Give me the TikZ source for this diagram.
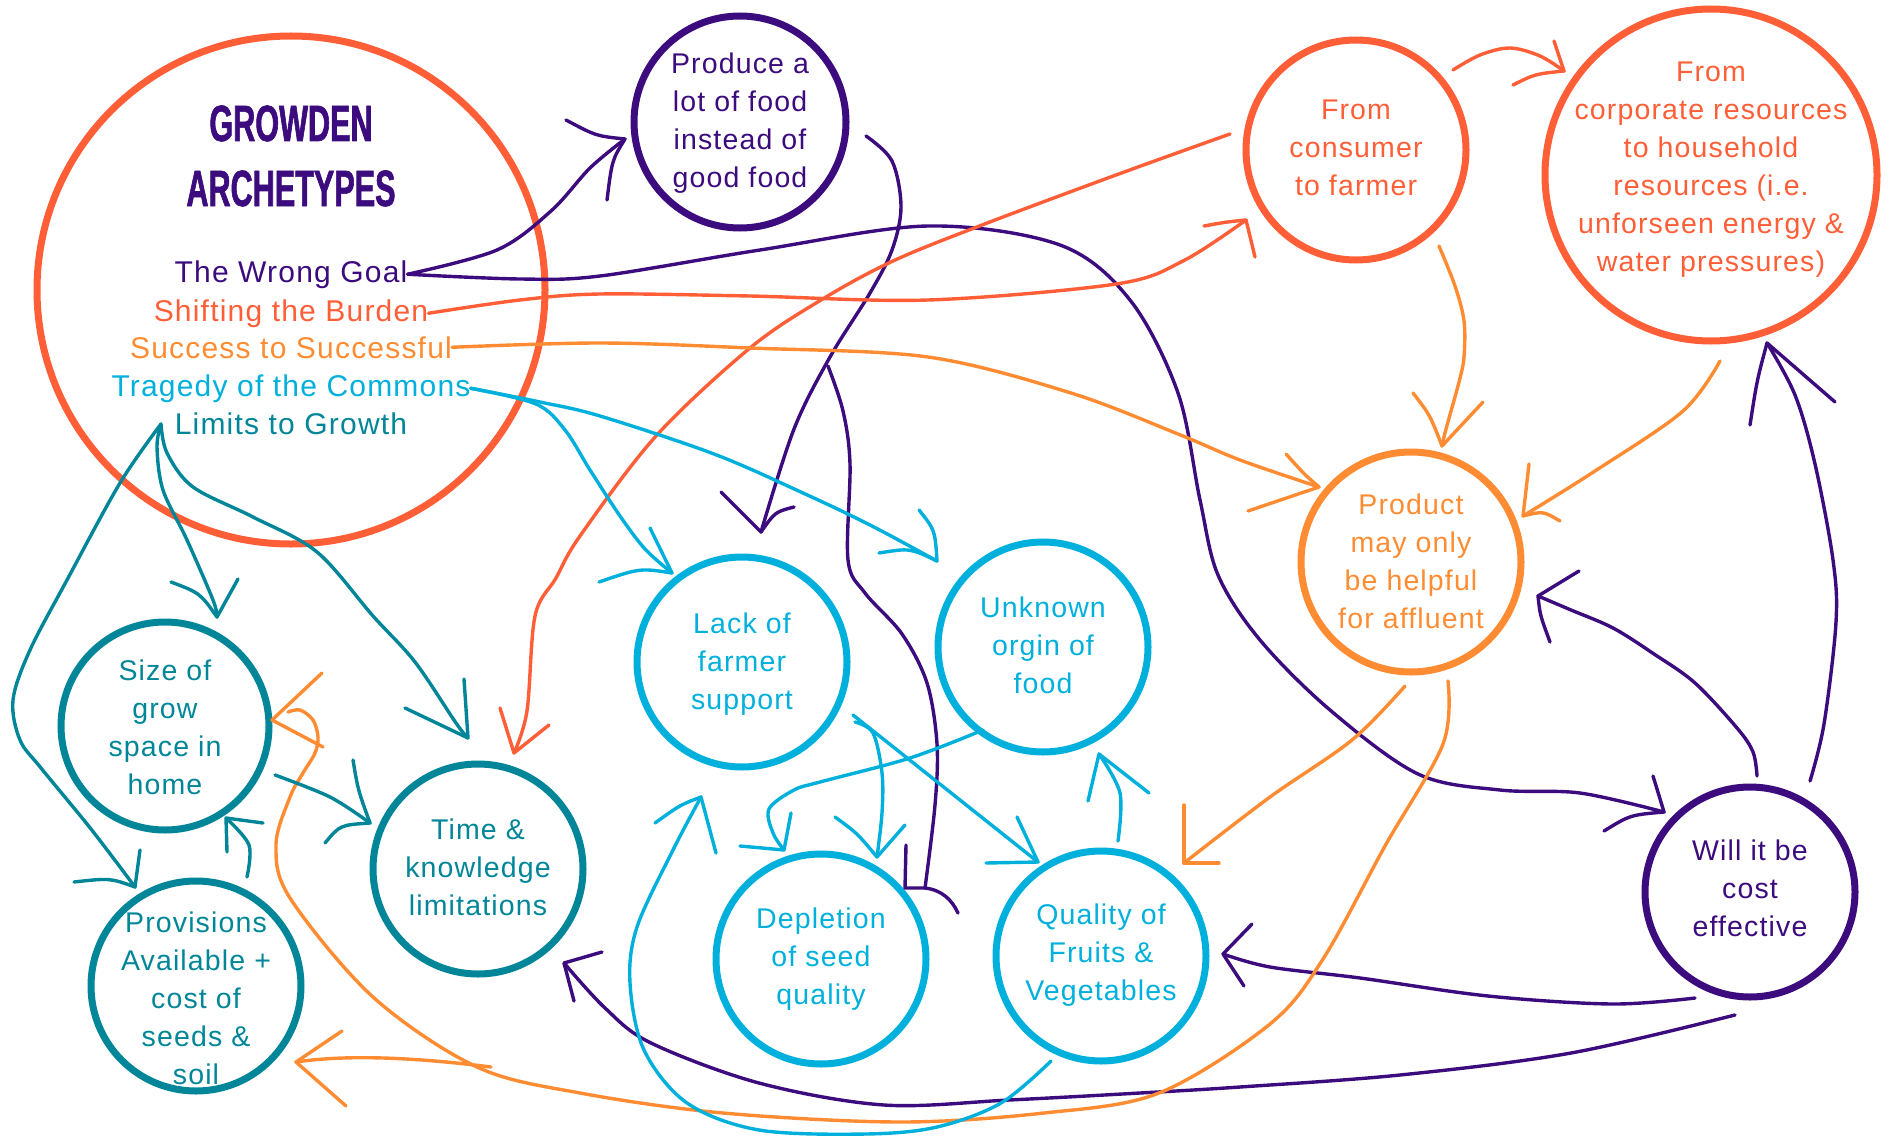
\documentclass[tikz,border=0pt]{standalone}
\usepackage{fontspec}
\setmainfont{Liberation Sans}
\newfontfamily\bodyfont{Liberation Sans}[LetterSpace=4]
\newfontfamily\titlefont{Liberation Sans}[FakeStretch=0.6, FakeBold=1.2]

\definecolor{cPur}{RGB}{60,12,126}
\definecolor{cRed}{RGB}{255,94,55}
\definecolor{cOra}{RGB}{255,140,50}
\definecolor{cCya}{RGB}{0,176,220}
\definecolor{cTea}{RGB}{0,134,152}

\tikzset{
  ringst/.style={circle, draw, line width=7pt, inner sep=0pt},
  txt/.style={align=center, inner sep=0pt, font=\bodyfont\fontsize{28.5}{38}\selectfont},
  lst/.style={anchor=base, inner sep=0pt, font=\bodyfont\fontsize{30}{38}\selectfont},
  con/.style={line width=3.4pt, line cap=round, line join=round},
  sm/.style={smooth, tension=0.55},
}

% name, colour, centre, diameter, text shift, text
\newcommand\ring[6]{%
  \node[ringst,#2,minimum size=#4] (#1) at #3 {};
  \node[txt,#2] (#1-t) at ([yshift=#5]#1) {#6};}

\begin{document}
\begin{tikzpicture}[x=1pt,y=-1pt]
\useasboundingbox (0,0) rectangle (1889,1137);

% ---------- archetype circle ----------
\node[ringst,cRed,minimum size=508pt] (big) at (291,290) {};
\node[cPur, anchor=base, inner sep=0pt, font=\titlefont\bfseries\fontsize{51}{65}\selectfont] (title1) at (291,141) {GROWDEN};
\node[cPur, anchor=base, inner sep=0pt, font=\titlefont\bfseries\fontsize{51}{65}\selectfont] (title2) at (291,206) {ARCHETYPES};
\node[lst,cPur] (goal) at (291,282) {The Wrong Goal};
\node[lst,cRed] (burden) at (291,321) {Shifting the Burden};
\node[lst,cOra] (success) at (291,358) {Success to Successful};
\node[lst,cCya] (commons) at (291,396) {Tragedy of the Commons};
\node[lst,cTea] (limits) at (291,434) {Limits to Growth};
\coordinate (lim0) at (161,424);

% ---------- factor circles ----------
\ring{produce}{cPur}{(740,122)}{212pt}{-1pt}{Produce a\\lot of food\\instead of\\good food}
\ring{consumer}{cRed}{(1356,150)}{220pt}{2pt}{From\\consumer\\to farmer}
\ring{corporate}{cRed}{(1711,175)}{332pt}{5pt}{From\\corporate resources\\to household\\resources (i.e.\\unforseen energy \&\\water pressures)}
\ring{product}{cOra}{(1411,562)}{220pt}{1pt}{Product\\may only\\be helpful\\for affluent}
\ring{costeff}{cPur}{(1750,892)}{210pt}{4pt}{Will it be\\cost\\effective}
\ring{lack}{cCya}{(742,662)}{210pt}{-2pt}{Lack of\\farmer\\support}
\ring{unknown}{cCya}{(1043,647)}{210pt}{2pt}{Unknown\\orgin of\\food}
\ring{depletion}{cCya}{(821,959)}{210pt}{0pt}{Depletion\\of seed\\quality}
\ring{quality}{cCya}{(1101,956)}{210pt}{1pt}{Quality of\\Fruits \&\\Vegetables}
\ring{sizegrow}{cTea}{(165,726)}{208pt}{-1pt}{Size of\\grow\\space in\\home}
\ring{provisions}{cTea}{(196,986)}{210pt}{-12pt}{Provisions\\Available +\\cost of\\seeds \&\\soil}
\ring{timek}{cTea}{(478,869)}{210pt}{2pt}{Time \&\\knowledge\\limitations}

% ---------- The Wrong Goal (purple) ----------
\coordinate (pA) at (625,139);
\draw[con,cPur] plot[sm] coordinates {(goal.east) (497,250) (551,211) (590,168) (pA)};
\draw[con,cPur] (566,120) .. controls (596,136) .. (pA) .. controls (612,160) .. (607,200);

\coordinate (pB) at (1664,812);
\draw[con,cPur] plot[sm] coordinates {(goal.east) (520,279) (600,276) (760,250) (928,226) (1060,245) (1130,300) (1178,393) (1200,500) (1218,575) (1260,640) (1330,710) (1418,774) (1500,790) (1580,793) (pB)};
\draw[con,cPur] (1653,776) -- (pB) .. controls (1630,815) .. (1604,831);

\coordinate (pCs) at (866,136);
\coordinate (pC) at (761,532);
\draw[con,cPur] plot[sm] coordinates {(pCs) (892,161) (901,207) (892,250) (870,293) (830,357) (794,429) (pC)};
\draw[con,cPur] (721,492) -- (pC) .. controls (775,512) .. (794,507);

\coordinate (pDs) at (828,366);
\coordinate (pD) at (925,888);
\draw[con,cPur] plot[sm] coordinates {(pDs) (843,411) (850,464) (848,560) (865,593) (902,634) (927,683) (937,744) (935,805) (pD)};
\draw[con,cPur] (906,845) -- (905,888) -- (pD) .. controls (942,890) and (952,900) .. (958,913);

\coordinate (pEs) at (1757,776);
\coordinate (pE) at (1538,596);
\draw[con,cPur] plot[sm] coordinates {(pEs) (1753,752) (1737,728) (1695,683) (1654,654) (1613,628) (1571,610) (pE)};
\draw[con,cPur] (1579,571) -- (pE) .. controls (1540,615) .. (1550,642);

\coordinate (pFs) at (1810,781);
\coordinate (pF) at (1767,343);
\draw[con,cPur] plot[sm] coordinates {(pFs) (1824,724) (1836,622) (1833,560) (1815,464) (1795,395) (pF)};
\draw[con,cPur] (1835,402) -- (pF) .. controls (1757,380) .. (1750,425);

\coordinate (pGs) at (1695,998);
\coordinate (pG) at (1223,954);
\draw[con,cPur] plot[sm] coordinates {(pGs) (1612,1004) (1488,996) (1360,978) (1270,967) (pG)};
\draw[con,cPur] (1252,924) -- (pG) -- (1244,986);

\coordinate (pHs) at (1735,1015);
\coordinate (pH) at (564,963);
\draw[con,cPur] plot[sm] coordinates {(pHs) (1571,1053) (1400,1075) (1240,1087) (1140,1093) (1009,1100) (884,1105) (759,1083) (651,1043) (605,1008) (pH)};
\draw[con,cPur] (602,952) -- (pH) -- (574,1001);

% ---------- Shifting the Burden (red) ----------
\coordinate (rA) at (1246,220);
\draw[con,cRed] plot[sm] coordinates {(burden.east) (520,300) (600,294) (750,296) (928,300) (1116,284) (1183,261) (rA)};
\draw[con,cRed] (1204,226) .. controls (1226,222) .. (rA) -- (1255,257);

\coordinate (rBs) at (1230,134);
\coordinate (rB) at (514,753);
\draw[con,cRed] plot[sm] coordinates {(rBs) (1116,175) (982,225) (893,261) (821,300) (750,348) (656,436) (580,536) (556,578) (535,616) (527,711) (rB)};
\draw[con,cRed] (500,708) -- (rB) -- (549,725);

\coordinate (rCs) at (1453,70);
\coordinate (rC) at (1564,71);
\draw[con,cRed] plot[sm] coordinates {(rCs) (1480,55) (1510,48) (1540,56) (rC)};
\draw[con,cRed] (1554,41) -- (rC) .. controls (1535,74) .. (1513,85);

% ---------- Success to Successful (orange) ----------
\coordinate (oA) at (1319,487);
\draw[con,cOra] plot[sm] coordinates {(success.east) (600,343) (750,348) (928,357) (1071,393) (1178,434) (1240,460) (oA)};
\draw[con,cOra] (1286,454) .. controls (1305,475) .. (oA) -- (1248,511);

\coordinate (oBs) at (1439,246);
\coordinate (oB) at (1442,446);
\draw[con,cOra] plot[sm] coordinates {(oBs) (1455,286) (1464,321) (1464,357) (1459,382) (1446,429) (oB)};
\draw[con,cOra] (1413,393) .. controls (1430,415) .. (oB) -- (1483,402);

\coordinate (oCs) at (1720,361);
\coordinate (oC) at (1523,516);
\draw[con,cOra] plot[sm] coordinates {(oCs) (1683,411) (1595,471) (oC)};
\draw[con,cOra] (1529,464) -- (oC) .. controls (1543,511) .. (1560,521);

\coordinate (oDs) at (1405,686);
\coordinate (oD) at (1184,863);
\draw[con,cOra] plot[sm] coordinates {(oDs) (1352,740) (1270,797) (oD)};
\draw[con,cOra] (1184,805) -- (oD) -- (1219,863);

\coordinate (oEs) at (1448,681);
\coordinate (oE) at (272,720);
\coordinate (oEj) at (491,1067);
\draw[con,cOra] plot[sm] coordinates {(oEs) (1443,744) (1385,846) (1323,959) (1270,1024) (1159,1093) (1044,1113) (901,1122) (723,1113) (580,1093) (477,1067) (373,997) (290,898) (276,845) (290,797) (303,773) (315,753) (318,737) (313,720) (300,710) (288,712)};
\draw[con,cOra] (322,673) -- (oE) -- (323,747);

\coordinate (oF) at (296,1062);
\draw[con,cOra] (oEj) .. controls (420,1058) and (350,1054) .. (oF);
\draw[con,cOra] (342,1031) -- (oF) -- (346,1106);

% ---------- Tragedy of the Commons (cyan) ----------
\coordinate (cA) at (672,573);
\draw[con,cCya] plot[sm] coordinates {(commons.east) (536,404) (565,430) (590,470) (620,516) (645,549) (cA)};
\draw[con,cCya] (650,528) -- (cA) .. controls (640,568) .. (599,582);

\coordinate (cB) at (937,561);
\draw[con,cCya] plot[sm] coordinates {(commons.east) (540,402) (600,416) (714,454) (803,493) (870,525) (cB)};
\draw[con,cCya] (919,510) .. controls (935,530) .. (cB) .. controls (910,548) .. (879,553);

\coordinate (cCs) at (983,730);
\coordinate (cC) at (784,850);
\draw[con,cCya] plot[sm] coordinates {(cCs) (910,758) (820,782) (794,790) (769,809) (773,833) (cC)};
\draw[con,cCya] (791,813) -- (cC) -- (740,846);

\coordinate (cDs) at (853,715);
\coordinate (cD) at (1038,862);
\draw[con,cCya] (cDs) -- (cD);
\draw[con,cCya] (1017,817) -- (cD) -- (986,863);

\coordinate (cEs) at (855,722);
\coordinate (cE) at (877,857);
\draw[con,cCya] plot[sm] coordinates {(cEs) (873,733) (882,773) (882,813) (cE)};
\draw[con,cCya] (835,817) .. controls (857,833) .. (cE) -- (905,825);

\coordinate (cFs) at (1118,841);
\coordinate (cF) at (1099,754);
\draw[con,cCya] plot[sm] coordinates {(cFs) (1120,793) (cF)};
\draw[con,cCya] (1088,801) -- (cF) -- (1149,793);

\coordinate (cGs) at (1051,1061);
\coordinate (cG) at (701,797);
\draw[con,cCya] plot[sm] coordinates {(cGs) (1001,1103) (937,1127) (866,1134) (759,1130) (687,1103) (644,1050) (630,983) (637,927) (673,850) (cG)};
\draw[con,cCya] (655,823) .. controls (680,805) .. (cG) -- (716,853);

% ---------- Limits to Growth (teal) ----------
\coordinate (tA) at (135,887);
\draw[con,cTea] plot[sm] coordinates {(lim0) (120,483) (67,580) (30,650) (13,700) (20,740) (41,768) (91,829) (tA)};
\draw[con,cTea] (140,850) -- (tA) .. controls (110,878) .. (74,882);

\coordinate (tB) at (217,617);
\draw[con,cTea] plot[sm] coordinates {(lim0) (157,447) (163,490) (187,540) (213,600) (tB)};
\draw[con,cTea] (238,579) -- (tB) .. controls (200,593) .. (171,582);

\coordinate (tC) at (468,738);
\draw[con,cTea] plot[sm] coordinates {(lim0) (167,453) (193,487) (253,517) (317,552) (373,616) (415,662) (456,723) (tC)};
\draw[con,cTea] (464,679) -- (tC) -- (405,708);

\coordinate (tDs) at (275,775);
\coordinate (tD) at (370,823);
\draw[con,cTea] plot[sm] coordinates {(tDs) (330,797) (tD)};
\draw[con,cTea] (353,760) .. controls (358,790) .. (tD) .. controls (340,825) .. (325,843);

\coordinate (tEs) at (247,877);
\coordinate (tE) at (226,818);
\draw[con,cTea] plot[sm] coordinates {(tEs) (249,845) (tE)};
\draw[con,cTea] (227,852) -- (tE) .. controls (245,820) .. (263,823);

\end{tikzpicture}
\end{document}
